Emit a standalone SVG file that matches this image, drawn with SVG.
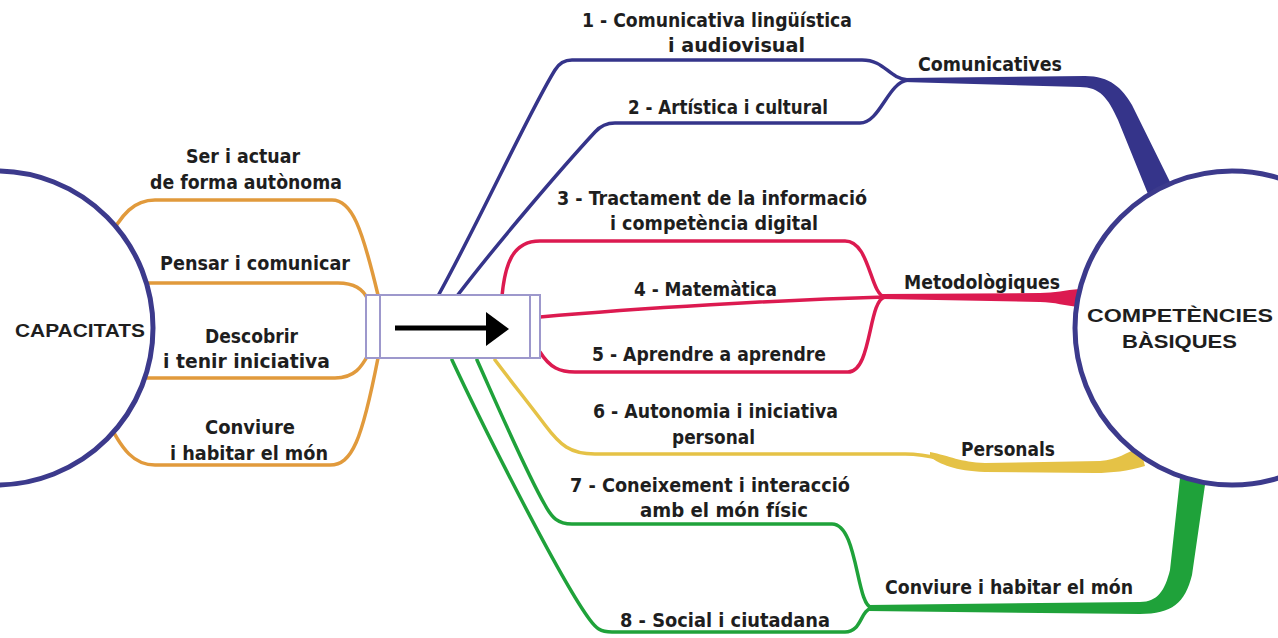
<svg xmlns="http://www.w3.org/2000/svg" width="1278" height="638" viewBox="0 0 1278 638">
<style>
.lbl{font-family:"Liberation Sans Narrow","DejaVu Sans Condensed","Liberation Sans",sans-serif;font-weight:bold;font-size:19px;fill:#1e1e1e}
.big{font-family:"Liberation Sans",Arial,sans-serif;font-weight:bold;font-size:18px;fill:#1e1e1e}
.ln{fill:none;stroke-width:3.5;stroke-linecap:round;stroke-linejoin:round}
.blue{stroke:#35348a}
.red{stroke:#dc1a50}
.org{stroke:#e19a3c}
.yel{stroke:#e5c246}
.grn{stroke:#1fa23a}
.circ{fill:#fff;stroke:#3c3a8c;stroke-width:5}
</style>
<rect width="1278" height="638" fill="#fff"/>
<g id="connectors">
  <!-- orange: capacitats to box -->
  <path class="ln org" d="M105,245 C122,212 135,200 155,200 L332,200 C352,200 362,228 378,295"/>
  <path class="ln org" d="M130,283 L338,283 C356,283 364,290 368,300"/>
  <path class="ln org" d="M130,378 L335,378 C355,378 362,366 368,355"/>
  <path class="ln org" d="M105,415 C122,452 135,465 155,465 L330,465 C352,465 362,440 378,358"/>
  <!-- blue -->
  <path class="ln blue" d="M438,296 C480,220 530,110 555,70 Q561,60 572,60 L862,60 C885,60 888,78 908,80"/>
  <path class="ln blue" d="M457,296 C500,240 560,170 595,132 Q603,123 615,123 L860,123 C880,123 888,82 908,80"/>
  <path fill="#35348a" d="M903,78 L1085,76 C1110,76 1122,88 1132,105 L1172,186 L1148,194 L1118,120 C1108,98 1100,87 1080,87 L903,82 Z"/>
  <!-- red -->
  <path class="ln red" d="M502,296 C505,265 512,241 540,241 L845,241 C870,241 870,295 885,297"/>
  <path class="ln red" d="M540,317 C640,308 780,300 885,297"/>
  <path class="ln red" d="M540,352 C550,368 560,372 575,372 L848,372 C872,372 868,300 885,297"/>
  <path fill="#dc1a50" d="M882,294 L1040,293 C1055,293 1065,290 1080,289 L1080,307 C1065,306 1055,302 1040,302 L882,299 Z"/>
  <!-- yellow -->
  <path class="ln yel" d="M495,360 C510,380 530,405 545,425 C560,445 570,454 595,454 L905,454 C930,454 940,460 960,463"/>
  <path fill="#e5c246" d="M930,452 C950,456 960,462 985,463 L1100,461 C1118,460 1126,452 1140,448 L1145,466 C1128,471 1112,473 1095,473 L985,472 C955,471 940,464 930,457 Z"/>
  <!-- green -->
  <path class="ln grn" d="M477,360 C495,400 525,470 545,505 C552,518 558,524 572,524 L832,524 C858,524 856,606 872,608"/>
  <path class="ln grn" d="M452,360 C480,420 560,580 590,620 C596,628 600,632 612,632 L845,632 C862,632 860,610 872,608"/>
  <path fill="#1fa23a" d="M868,605 L1140,602 C1158,602 1165,590 1170,570 L1180,478 L1206,478 L1192,575 C1185,603 1172,614 1140,614 L868,611 Z"/>
</g>
<g id="node-capacitats">
  <circle class="circ" cx="-4" cy="328" r="157"/>
  <text class="big" x="15" y="337" textLength="130" lengthAdjust="spacingAndGlyphs">CAPACITATS</text>
</g>
<g id="node-competencies">
  <circle class="circ" cx="1232" cy="328" r="157"/>
  <text class="big" x="1087" y="322" textLength="186" lengthAdjust="spacingAndGlyphs" style="font-size:19px">COMPETÈNCIES</text>
  <text class="big" x="1122" y="348" textLength="115" lengthAdjust="spacingAndGlyphs" style="font-size:19px">BÀSIQUES</text>
</g>
<g id="node-box">
  <rect x="366" y="295" width="174" height="63" fill="#fff" stroke="#9d98cc" stroke-width="2"/>
  <line x1="380" y1="295" x2="380" y2="358" stroke="#9d98cc" stroke-width="2"/>
  <line x1="530" y1="295" x2="530" y2="358" stroke="#9d98cc" stroke-width="2"/>
  <line x1="395" y1="328" x2="490" y2="328" stroke="#000" stroke-width="5"/>
  <polygon points="486,312 509,329 486,346" fill="#000"/>
</g>
<g id="labels-capacitats">
  <text class="lbl" x="186" y="163" textLength="114" lengthAdjust="spacingAndGlyphs">Ser i actuar</text>
  <text class="lbl" x="150" y="189" textLength="192" lengthAdjust="spacingAndGlyphs">de forma autònoma</text>
  <text class="lbl" x="160" y="270" textLength="190" lengthAdjust="spacingAndGlyphs">Pensar i comunicar</text>
  <text class="lbl" x="205" y="343" textLength="93" lengthAdjust="spacingAndGlyphs">Descobrir</text>
  <text class="lbl" x="163" y="368" textLength="167" lengthAdjust="spacingAndGlyphs">i tenir iniciativa</text>
  <text class="lbl" x="205" y="434" textLength="90" lengthAdjust="spacingAndGlyphs">Conviure</text>
  <text class="lbl" x="170" y="460" textLength="158" lengthAdjust="spacingAndGlyphs">i habitar el món</text>
</g>
<g id="labels-competencies">
  <text class="lbl" x="582" y="27" textLength="270" lengthAdjust="spacingAndGlyphs">1 - Comunicativa lingüística</text>
  <text class="lbl" x="668" y="52" textLength="137" lengthAdjust="spacingAndGlyphs">i audiovisual</text>
  <text class="lbl" x="628" y="114" textLength="200" lengthAdjust="spacingAndGlyphs">2 - Artística i cultural</text>
  <text class="lbl" x="557" y="205" textLength="310" lengthAdjust="spacingAndGlyphs">3 - Tractament de la informació</text>
  <text class="lbl" x="610" y="230" textLength="208" lengthAdjust="spacingAndGlyphs">i competència digital</text>
  <text class="lbl" x="634" y="296" textLength="143" lengthAdjust="spacingAndGlyphs">4 - Matemàtica</text>
  <text class="lbl" x="592" y="361" textLength="234" lengthAdjust="spacingAndGlyphs">5 - Aprendre a aprendre</text>
  <text class="lbl" x="593" y="418" textLength="245" lengthAdjust="spacingAndGlyphs">6 - Autonomia i iniciativa</text>
  <text class="lbl" x="672" y="444" textLength="83" lengthAdjust="spacingAndGlyphs">personal</text>
  <text class="lbl" x="570" y="492" textLength="280" lengthAdjust="spacingAndGlyphs">7 - Coneixement i interacció</text>
  <text class="lbl" x="640" y="517" textLength="168" lengthAdjust="spacingAndGlyphs">amb el món físic</text>
  <text class="lbl" x="620" y="627" textLength="210" lengthAdjust="spacingAndGlyphs">8 - Social i ciutadana</text>
</g>
<g id="labels-groups">
  <text class="lbl" x="918" y="71" textLength="144" lengthAdjust="spacingAndGlyphs">Comunicatives</text>
  <text class="lbl" x="904" y="289" textLength="156" lengthAdjust="spacingAndGlyphs">Metodològiques</text>
  <text class="lbl" x="961" y="456" textLength="94" lengthAdjust="spacingAndGlyphs">Personals</text>
  <text class="lbl" x="885" y="594" textLength="248" lengthAdjust="spacingAndGlyphs">Conviure i habitar el món</text>
</g>
</svg>
